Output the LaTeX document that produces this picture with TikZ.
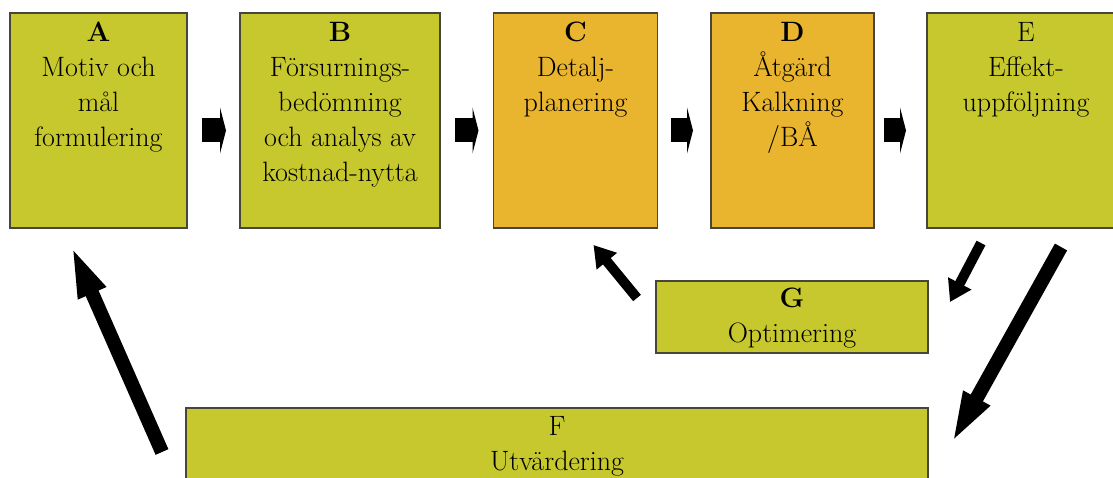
\documentclass[tikz,border=0pt]{standalone}
\usetikzlibrary{arrows.meta}
\definecolor{olivegreen}{RGB}{198,200,46}
\definecolor{amber}{RGB}{233,180,46}
\definecolor{boxline}{RGB}{70,70,60}
\tikzset{
  box/.style={draw=boxline, line width=1.3pt, inner sep=0pt, outer sep=0pt},
  gbox/.style={box, fill=olivegreen},
  obox/.style={box, fill=amber},
  txt/.style={anchor=base, align=center, inner sep=0pt, font=\fontsize{28}{35}\selectfont},
  flow/.style={line width=24pt, -{Triangle[length=6pt,width=46pt]}},
  back/.style={line width=14pt, -{Triangle[length=55pt,width=26pt]}},
  tweak/.style={line width=10pt, -{Triangle[length=21pt,width=25pt]}}
}
\begin{document}
\begin{tikzpicture}[x=1pt, y=-1pt]
  \useasboundingbox (0,0) rectangle (1113,478);

  % upper row of steps
  \node[gbox, minimum width=177pt, minimum height=215pt] (A) at (98.5,120.5) {};
  \node[gbox, minimum width=200pt, minimum height=215pt] (B) at (340,120.5) {};
  \node[obox, minimum width=164pt, minimum height=215pt] (C) at (575.5,120.5) {};
  \node[obox, minimum width=163pt, minimum height=215pt] (D) at (792.5,120.5) {};
  \node[gbox, minimum width=198pt, minimum height=215pt] (E) at (1026,120.5) {};

  % lower boxes
  \node[gbox, minimum width=272pt, minimum height=72pt] (G) at (792,317) {};
  \node[gbox, minimum width=742pt, minimum height=100pt] (F) at (557,458) {};

  % texts (anchored at the baseline of the last line)
  \node[txt] (At) at ([yshift=-134pt]A.north) {\textbf{A}\\Motiv och\\mål\\formulering};
  \node[txt] (Bt) at ([yshift=-169pt]B.north) {\textbf{B}\\Försurnings-\\bedömning\\och analys av\\kostnad-nytta};
  \node[txt] (Ct) at ([yshift=-99pt]C.north) {\textbf{C}\\Detalj-\\planering};
  \node[txt] (Dt) at ([yshift=-134pt]D.north) {\textbf{D}\\Åtgärd\\Kalkning\\/BÅ};
  \node[txt] (Et) at ([yshift=-99pt]E.north) {E\\Effekt-\\uppföljning};
  \node[txt] (Gt) at ([yshift=-61pt]G.north) {\textbf{G}\\Optimering};
  \node[txt] (Ft) at ([yshift=-62pt]F.north) {F\\Utvärdering};

  % forward arrows
  \draw[flow] ([xshift=15pt,yshift=-10pt]A.east) -- ([xshift=-14pt,yshift=-10pt]B.west);
  \draw[flow] ([xshift=15pt,yshift=-10pt]B.east) -- ([xshift=-15pt,yshift=-10pt]C.west);
  \draw[flow] ([xshift=13pt,yshift=-10pt]C.east) -- ([xshift=-18pt,yshift=-10pt]D.west);
  \draw[flow] ([xshift=10pt,yshift=-10pt]D.east) -- ([xshift=-21pt,yshift=-10pt]E.west);

  % feedback arrows
  \draw[tweak] ([shift={(54,15)}]E.south west) -- ([shift={(22,21)}]G.north east);
  \draw[tweak] ([shift={(-19,17)}]G.north west) -- ([shift={(-64,17)}]C.south east);
  \draw[back] ([shift={(134,19)}]E.south west) -- ([shift={(22,38)}]F.north east);
  \draw[back] ([shift={(-24,44)}]F.north west) -- ([shift={(60,15)}]A.south west);
\end{tikzpicture}
\end{document}
